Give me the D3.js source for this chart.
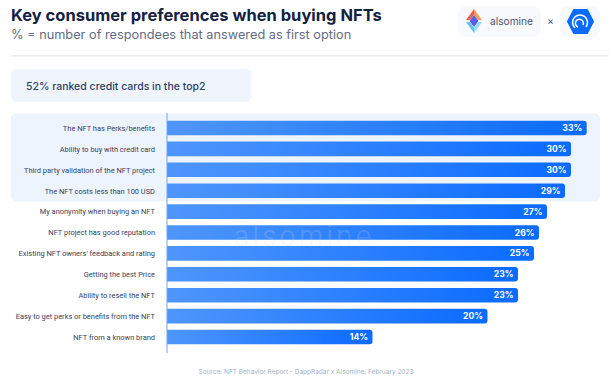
<!DOCTYPE html>
<html>
<head>
<meta charset="utf-8">
<script src="https://cdn.jsdelivr.net/npm/d3@7/dist/d3.min.js"></script>
<style>
  html, body { margin: 0; padding: 0; background: #fff; }
  svg { display: block; }
  text { font-family: Inter, "Open Sans", sans-serif; }
</style>
</head>
<body>
<div id="container"></div>
<script>
//data
let categories = [
  "The NFT has Perks/benefits",
  "Ability to buy with credit card",
  "Third party validation of the NFT project",
  "The NFT costs less than 100 USD",
  "My anonymity when buying an NFT",
  "NFT project has good reputation",
  "Existing NFT owners' feedback and rating",
  "Getting the best Price",
  "Ability to resell the NFT",
  "Easy to get perks or benefits from the NFT",
  "NFT from a known brand"
];
let values = [33, 30, 30, 29, 27, 26, 25, 23, 23, 20, 14];

//settings
let w = 609;
let h = 381;
let axisX = 167;
let viz = d3.select("#container")
  .append("svg")
    .attr("width", w)
    .attr("height", h)
;

let defs = viz.append("defs");
let grad = defs.append("linearGradient").attr("id", "barFill");
grad.append("stop").attr("offset", "0%").attr("stop-color", "#4f96fb");
grad.append("stop").attr("offset", "100%").attr("stop-color", "#0a6bff");

//header
viz.append("text")
  .attr("x", 11).attr("y", 21)
  .attr("font-size", 16.5).attr("font-weight", 700)
  .attr("fill", "#14213f")
  .text("Key consumer preferences when buying NFTs");
viz.append("text")
  .attr("x", 11).attr("y", 39)
  .attr("font-size", 12.75)
  .attr("fill", "#5f6d85")
  .text("% = number of respondees that answered as first option");
viz.append("rect")
  .attr("x", 11).attr("y", 55).attr("width", 598).attr("height", 1.5)
  .attr("fill", "#e9ebef");

//callout
viz.append("rect")
  .attr("x", 11).attr("y", 69).attr("width", 240).attr("height", 33).attr("rx", 5)
  .attr("fill", "#f0f5fd");
viz.append("text")
  .attr("x", 26).attr("y", 89.5)
  .attr("font-size", 10.5).attr("font-weight", 500)
  .attr("fill", "#2f4064")
  .text("52% ranked credit cards in the top2");

//logos
let logos = viz.append("g");
logos.append("rect")
  .attr("x", 458).attr("y", 6).attr("width", 83).attr("height", 31).attr("rx", 8)
  .attr("fill", "#f7f9fd");
let diamond = logos.append("g").attr("transform", "translate(-6,-1)");
diamond.append("path").attr("d", "M480 10 L472 21 L476 21 L480 16 Z").attr("fill", "#e8634f");
diamond.append("path").attr("d", "M480 10 L488 21 L484 21 L480 16 Z").attr("fill", "#f0a05a");
diamond.append("path").attr("d", "M480 16 L484.5 22 L480 28 L475.5 22 Z").attr("fill", "#5a5ce6");
diamond.append("path").attr("d", "M472 23 L480 34 L480 29 L476 23 Z").attr("fill", "#5ec4ee");
diamond.append("path").attr("d", "M488 23 L480 34 L480 29 L484 23 Z").attr("fill", "#8fdcf5");
logos.append("text")
  .attr("x", 490).attr("y", 24.5)
  .attr("font-size", 10.2).attr("fill", "#4a5468")
  .text("alsomine");
logos.append("text")
  .attr("x", 547).attr("y", 24.5)
  .attr("font-size", 10.6).attr("fill", "#4a5468")
  .text("×");
logos.append("rect")
  .attr("x", 560).attr("y", 6).attr("width", 40).attr("height", 31).attr("rx", 8)
  .attr("fill", "#f7f9fd");
let hexagon = logos.append("g").attr("transform", "translate(-8,0)");
hexagon.append("path")
  .attr("d", "M582 10 L595 10 L601 21.500 L595 33 L582 33 L576 21.500 Z")
  .attr("fill", "#0a6bff").attr("stroke", "#0a6bff").attr("stroke-width", 2).attr("stroke-linejoin", "round");
hexagon.append("path")
  .attr("d", "M583 28 A7.500 7.500 0 1 1 594 27")
  .attr("fill", "none").attr("stroke", "#fff").attr("stroke-width", 1.5);
hexagon.append("path")
  .attr("d", "M586 27 A4 4 0 1 1 591 25")
  .attr("fill", "none").attr("stroke", "#fff").attr("stroke-width", 1.5);

//highlight behind the top four rows
viz.append("rect")
  .attr("x", 11).attr("y", 113.500).attr("width", 589).attr("height", 88).attr("rx", 5)
  .attr("fill", "#eef4fe");

//scales. the bars in the picture are not proportional to their labels,
//so the x scale has one stop for each printed value
let yScale = d3.scaleBand()
  .domain(categories)
  .range([117.55, 347.45])
  .paddingInner(0.3)
  .paddingOuter(0.15)
;
let xScale = d3.scaleLinear()
  .domain([0, 14, 20, 23, 25, 26, 27, 29, 30, 33])
  .range([axisX, 372.5, 487.5, 518, 534, 539, 547, 565, 571, 586.7])
;

//bars
let graphGroup = viz.append("g").classed("graphGroup", true);
let datapoints = graphGroup.selectAll(".datapoint").data(values).enter()
  .append("g")
    .classed("datapoint", true)
    .attr("transform", function(d, i){
      return "translate(" + axisX + "," + yScale(categories[i]) + ")";
    })
;
datapoints.append("path")
  .attr("d", function(d){
    let bw = xScale(d) - axisX;
    let bh = yScale.bandwidth();
    return "M0 0 H" + (bw - 3) + " Q" + bw + " 0 " + bw + " 3 V" + (bh - 3) + " Q" + bw + " " + bh + " " + (bw - 3) + " " + bh + " H0 Z";
  })
  .attr("fill", "url(#barFill)");
datapoints.append("text")
  .attr("x", function(d){ return xScale(d) - axisX - 4.5; })
  .attr("y", yScale.bandwidth() / 2)
  .attr("dy", "0.36em")
  .attr("text-anchor", "end")
  .attr("font-size", 8.6)
  .attr("font-weight", 700)
  .attr("fill", "#fff")
  .text(function(d){ return d + "%"; });

//category axis
let yAxis = d3.axisLeft(yScale).tickSize(0).tickPadding(12);
let yAxisGroup = viz.append("g")
  .attr("transform", "translate(" + axisX + ",0.5)")
  .call(yAxis);
yAxisGroup.select(".domain").remove();
yAxisGroup.selectAll("text")
  .attr("font-size", 7.45)
  .attr("fill", "#36415c")
  .style("font-family", "Roboto, sans-serif");

viz.append("line")
  .attr("x1", axisX).attr("x2", axisX)
  .attr("y1", 113).attr("y2", 353)
  .attr("stroke", "#6ea6f2").attr("stroke-width", 1);

//watermark
viz.append("text")
  .attr("x", 234).attr("y", 246)
  .attr("font-size", 28)
  .attr("font-weight", 300)
  .attr("letter-spacing", 3)
  .attr("fill", "#cfdcf2")
  .attr("opacity", 0.18)
  .text("alsomine");

//source
viz.append("text")
  .attr("x", 306).attr("y", 374)
  .attr("text-anchor", "middle")
  .attr("font-size", 6.5)
  .attr("fill", "#a9b1c1")
  .text("Source: NFT Behavior Report - DappRadar x Alsomine, February 2023");
</script>
</body>
</html>
